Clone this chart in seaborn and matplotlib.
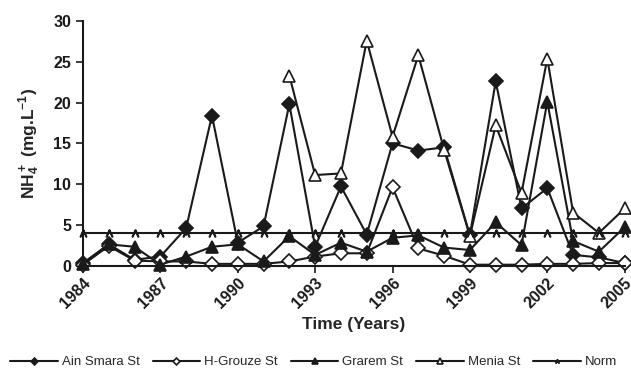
#--Import libraries--#
import numpy as np
import pandas as pd
import seaborn as sns
import matplotlib
matplotlib.use("Agg")
import matplotlib.pyplot as plt
from matplotlib import font_manager

#--Data--#
years = list(range(1984, 2006))
ain_smara = [0.3, 2.6, 0.7, 1.1, 4.6, 18.4, 2.8, 4.8, 19.8, 2.3, 9.7, 3.8,
             15.0, 14.1, 14.5, 3.7, 22.6, 7.0, 9.5, 1.3, 1.0, 0.3]
h_grouze = [0.1, 2.4, 0.6, 0.5, 0.5, 0.2, 0.2, 0.2, 0.5, 1.1, 1.5, 1.5,
            9.6, 2.1, 1.2, 0.1, 0.1, 0.1, 0.2, 0.2, 0.3, 0.3]
grarem = [0.2, 2.6, 2.3, 0.1, 1.1, 2.3, 2.6, 0.5, 3.6, 1.3, 2.8, 1.7,
          3.4, 3.7, 2.2, 1.9, 5.3, 2.5, 20.1, 3.0, 1.7, 4.7]
menia = [np.nan] * 8 + [23.3, 11.1, 11.3, 27.6, 15.8, 25.8, 14.2, 3.6,
                        17.2, 8.9, 25.4, 6.5, 4.0, 7.0]
norm = [4.0] * 22
xticks = [1984, 1987, 1990, 1993, 1996, 1999, 2002, 2005]

df = pd.DataFrame({'Year': years, 'Ain Smara St': ain_smara,
                   'H-Grouze St': h_grouze, 'Grarem St': grarem,
                   'Menia St': menia, 'Norm': norm})

#--Style--#
sns.set_style("white")
plt.rcParams['font.family'] = ['Liberation Sans', 'DejaVu Sans']
plt.rcParams['mathtext.fontset'] = 'custom'
plt.rcParams['mathtext.bf'] = 'Liberation Sans:bold'
plt.rcParams['mathtext.rm'] = 'Liberation Sans:bold'

installed = {f.name for f in font_manager.fontManager.ttflist}
leg_family = 'Liberation Sans Narrow' if 'Liberation Sans Narrow' in installed else 'Liberation Sans'

ink = '#1a1a1a'
styles = {
    'Ain Smara St': dict(marker='D', markersize=7, markerfacecolor=ink),
    'H-Grouze St': dict(marker='D', markersize=7, markerfacecolor='white'),
    'Grarem St': dict(marker='^', markersize=9, markerfacecolor=ink),
    'Menia St': dict(marker='^', markersize=9, markerfacecolor='white'),
    'Norm': dict(marker='$\\wedge$', markersize=5, markerfacecolor=ink),
}

#--Plot--#
fig = plt.figure(figsize=(6.31, 3.78), dpi=100)
ax = fig.add_axes([0.1315, 0.2976, 0.8585, 0.6468])

for name, st in styles.items():
    sns.lineplot(data=df, x='Year', y=name, ax=ax, color=ink, linewidth=1.5,
                 markeredgecolor=ink, markeredgewidth=1.2, clip_on=False,
                 label=name, legend=False, **st)

ax.set_xlim(1984, 2005)
ax.set_ylim(0, 30)
ax.set_xticks(xticks)
ax.set_yticks(range(0, 31, 5))
ax.set_xticklabels([str(t) for t in xticks], rotation=45, ha='right',
                   va='top', rotation_mode='anchor', fontweight='bold')
for lab in ax.get_yticklabels():
    lab.set_fontweight('bold')
ax.tick_params(axis='both', labelsize=11.5, colors=ink, direction='out',
               length=5, width=1.2, bottom=True, left=True)
ax.tick_params(axis='x', pad=2)

sns.despine(ax=ax)
for side in ['left', 'bottom']:
    ax.spines[side].set_color(ink)
    ax.spines[side].set_linewidth(1.5)

ax.set_xlabel('Time (Years)', fontsize=12.5, fontweight='bold', labelpad=4)
ax.set_ylabel(r'$\mathbf{NH_4^+}$ (mg.L$^{\mathbf{-1}}$)', fontsize=12.5,
              fontweight='bold', labelpad=8)

handles, labels = ax.get_legend_handles_labels()
fig.legend(handles, labels, loc='center', bbox_to_anchor=(0.497, 0.042),
           ncol=5, frameon=False, handlelength=3.6,
           prop={'family': leg_family, 'size': 9.5},
           columnspacing=1.0, handletextpad=0.3, markerscale=0.5)

fig.savefig('out.png', dpi=100)
